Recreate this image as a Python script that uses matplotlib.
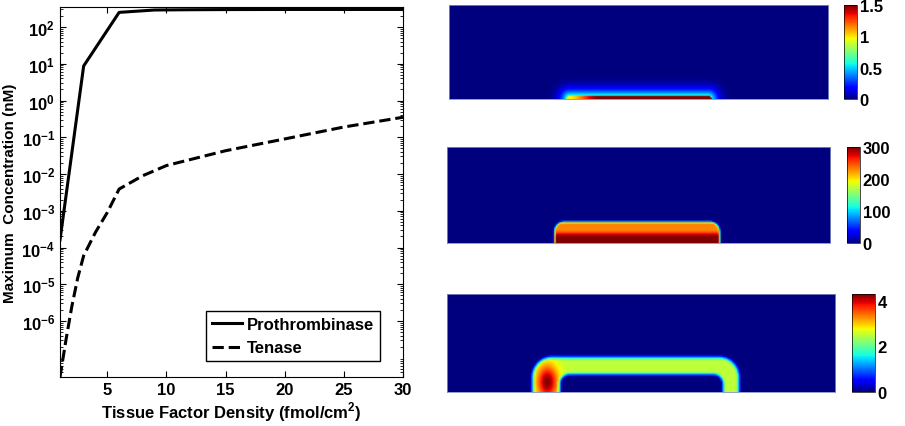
import matplotlib.pyplot as plt
import numpy as np
from matplotlib.ticker import LogLocator, NullFormatter

plt.rcParams['font.family'] = 'Liberation Sans'
plt.rcParams['font.weight'] = 'bold'
plt.rcParams['font.size'] = 12
plt.rcParams['mathtext.fontset'] = 'custom'
plt.rcParams['mathtext.rm'] = 'Liberation Sans:bold'
plt.rcParams['mathtext.bf'] = 'Liberation Sans:bold'

# left panel data
tf_pro = [1, 3, 6, 9, 12, 15, 20, 25, 30]
c_pro = [1.6e-4, 8.7, 250, 290, 295, 298, 300, 300, 300]
tf_ten = [1, 1.5, 2, 2.5, 3, 4, 5, 6, 8, 10, 15, 20, 25, 30]
c_ten = [3e-8, 3e-7, 2.5e-6, 1.5e-5, 6e-5, 2.6e-4, 9e-4, 3.9e-3, 9e-3, 1.7e-2, 4.3e-2, 9e-2, 0.19, 0.35]
xticks = [5, 10, 15, 20, 25, 30]
ydecades = [2, 1, 0, -1, -2, -3, -4, -5, -6]

# right panels: colour limits, colorbar ticks, shape of the hot region
clims = [1.5, 300, 4.3]
cticks = [[0, 0.5, 1, 1.5], [0, 100, 200, 300], [0, 2, 4]]
ctick_labels = [['0', '0.5', '1', '1.5'], ['0', '100', '200', '300'], ['0', '2', '4']]
# x0, x1 (fraction of width), top, corner radius (fraction of height)
outer = [(0.31, 0.69, 0.035, 0.03), (0.28, 0.71, 0.22, 0.1), (0.22, 0.75, 0.35, 0.2)]
inner3 = (0.29, 0.71, 0.18, 0.1)
aspect = 4.0

W, H = 905, 427
fig = plt.figure(figsize=(W / 100, H / 100), dpi=100)

def box(x0, y0, x1, y1):
    return [x0 / W, 1 - y1 / H, (x1 - x0) / W, (y1 - y0) / H]

ax = fig.add_axes(box(60, 8, 403, 378))
ax.semilogy(tf_pro, c_pro, 'k-', lw=2.2, label='Prothrombinase')
ax.semilogy(tf_ten, c_ten, 'k--', lw=2.2, label='Tenase')
ax.set_xlim(1, 30)
ax.set_ylim(3e-8, 350)
ax.set_xticks(xticks)
ax.set_yticks([10.0 ** d for d in ydecades])
ax.set_yticklabels([r'$\mathbf{10^{%d}}$' % d for d in ydecades])
ax.yaxis.set_minor_locator(LogLocator(base=10, subs=np.arange(2, 10), numticks=20))
ax.yaxis.set_minor_formatter(NullFormatter())
ax.tick_params(which='both', direction='in', top=True, right=True)
ax.tick_params(which='major', length=4)
ax.tick_params(which='minor', length=2)
ax.set_xlabel(r'Tissue Factor Density (fmol/cm$^{2}$)', fontweight='bold', labelpad=2)
ax.set_ylabel('Maximum  Concentration (nM)', fontweight='bold', fontsize=11, labelpad=3)
leg = ax.legend(loc='lower right', fancybox=False, edgecolor='k', framealpha=1,
                handlelength=1.8, handletextpad=0.25, borderpad=0.35,
                bbox_to_anchor=(0.956, 0.02))
leg.get_frame().set_linewidth(1.0)

# fields for the right panels (x measured in units of panel height)
nx, ny = 240, 60
xs = (np.arange(nx) + 0.5) / nx * aspect
ys = (np.arange(ny) + 0.5) / ny
X, Y = np.meshgrid(xs, ys)

def rdist(p):
    x0, x1, top, r = p
    cx, hw = (x0 + x1) / 2 * aspect, (x1 - x0) / 2 * aspect
    qx = np.abs(X - cx) - (hw - r)
    qy = Y - (top - r)
    qy = np.where(Y < top - r, np.minimum(qy, 0), qy)
    return np.hypot(np.maximum(qx, 0), np.maximum(qy, 0)) + np.minimum(np.maximum(qx, qy), 0) - r

def smooth(t):
    t = np.clip(t, 0, 1)
    return t * t * (3 - 2 * t)

# panel 1: thin hot layer with a soft glow above
d1 = rdist(outer[0])
ramp = 0.95 + 0.55 * smooth((X - outer[0][0] * aspect) / 0.35)
glow = 0.6 * np.exp(-np.maximum(d1, 0) / 0.09) * smooth(1 - d1 / 0.25)
f1 = np.where(d1 < 0, ramp, glow)

# panel 2: filled block, hot near the wall
d2 = rdist(outer[1])
core = 300 - 70 * smooth((Y - 0.06) / 0.08)
f2 = core * smooth(0.5 - d2 / 0.04)

# panel 3: hollow shell with a hot spot on the left corner
do = rdist(outer[2])
di = rdist(inner3)
shell = smooth(0.5 - do / 0.07) * smooth(0.5 + di / 0.06)
spot = 1.8 * np.exp(-((X - 0.258 * aspect) ** 2 / 0.012 + (Y - 0.1) ** 2 / 0.03))
f3 = shell * (2.5 + spot)

panels = [
    (box(449, 6, 828, 100), box(844, 6, 857, 100), f1),
    (box(447, 148, 830, 244), box(847, 148, 860, 244), f2),
    (box(447, 295, 835, 393), box(852, 295, 875, 393), f3),
]
for i, (rect, crect, field) in enumerate(panels):
    hax = fig.add_axes(rect)
    im = hax.imshow(field, origin='lower', cmap='jet', vmin=0, vmax=clims[i],
                    aspect='auto', interpolation='bilinear', extent=[0, 1, 0, 1])
    hax.set_xticks([])
    hax.set_yticks([])
    for s in hax.spines.values():
        s.set_color('#7f8fc0')
        s.set_linewidth(0.6)
    cax = fig.add_axes(crect)
    cb = fig.colorbar(im, cax=cax, ticks=cticks[i])
    cb.ax.set_yticklabels(ctick_labels[i])
    cb.ax.tick_params(length=0, pad=2)
    cb.outline.set_linewidth(0.5)

fig.savefig('out.png', dpi=100)
